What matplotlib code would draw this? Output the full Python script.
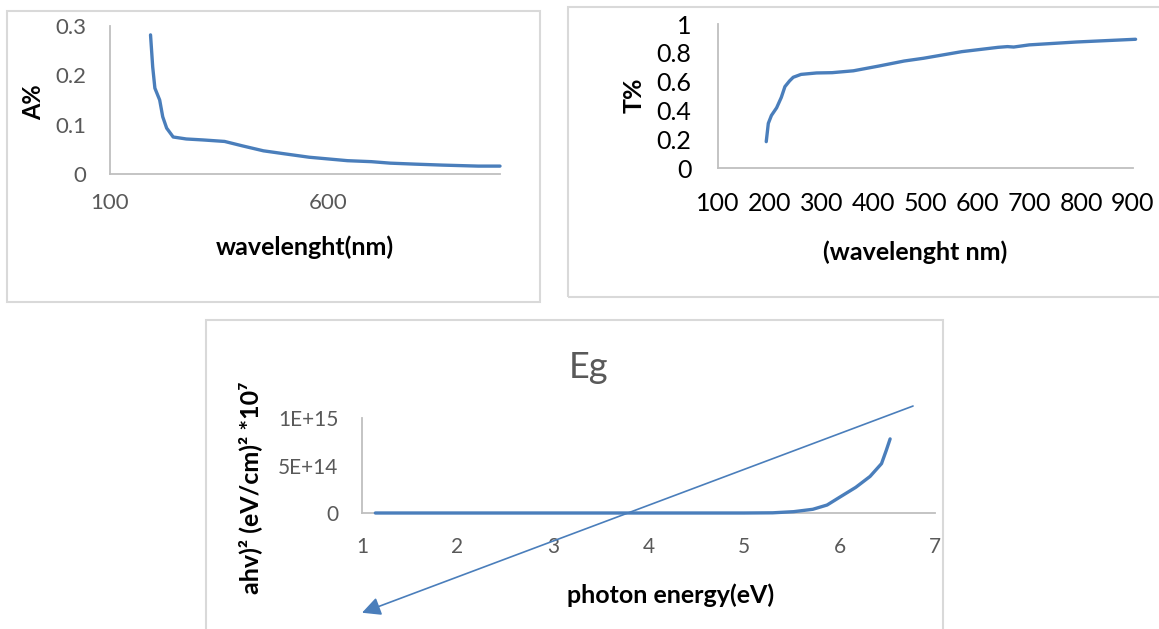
import matplotlib
matplotlib.use("Agg")
import matplotlib.pyplot as plt
from matplotlib.patches import Rectangle

plt.rcParams['font.family'] = ['Lato', 'DejaVu Sans']

# absorbance vs wavelength
abs_wl = [193, 198, 203, 214, 221, 230, 245, 275, 314, 363, 404, 452, 500, 557,
          645, 700, 743, 800, 864, 945, 995]
abs_val = [0.282, 0.217, 0.174, 0.150, 0.116, 0.093, 0.075, 0.071, 0.069, 0.066,
           0.057, 0.047, 0.041, 0.034, 0.027, 0.025, 0.022, 0.020, 0.018, 0.016, 0.016]

# transmittance vs wavelength
tr_wl = [193, 197, 203, 213, 222, 229, 238, 245, 260, 290, 320, 361, 410, 459,
         496, 570, 640, 658, 670, 700, 791, 905]
tr_val = [0.183, 0.310, 0.365, 0.418, 0.49, 0.565, 0.605, 0.630, 0.650, 0.660, 0.662,
          0.675, 0.708, 0.743, 0.762, 0.808, 0.838, 0.843, 0.840, 0.855, 0.875, 0.894]

# (ahv)^2 vs photon energy
eg_e = [1.14, 2.0, 3.0, 4.0, 5.0, 5.3, 5.52, 5.72, 5.87, 6.0, 6.17, 6.32, 6.44, 6.49, 6.53]
eg_val = [0, 0, 0, 0, 0, 0.002e15, 0.014e15, 0.039e15, 0.084e15, 0.165e15, 0.27e15,
          0.385e15, 0.52e15, 0.66e15, 0.78e15]

# hand-drawn extrapolation arrow (start -> tip)
tangent_e = [6.77, 1.0]
tangent_v = [1.126e15, -1.05e15]

W, H = 1159, 629
blue = '#4a7ebb'
gray_txt = '#595959'
spine_c = '#bfbfbf'
border_c = '#d9d9d9'

fig = plt.figure(figsize=(W / 100, H / 100), dpi=100)


def box(x0, y0, x1, y1):
    return [x0 / W, 1 - y1 / H, (x1 - x0) / W, (y1 - y0) / H]


def frame(x0, y0, x1, y1):
    fig.add_artist(Rectangle((x0 / W, 1 - y1 / H), (x1 - x0) / W, (y1 - y0) / H,
                             transform=fig.transFigure, fill=False,
                             edgecolor=border_c, lw=1.5))


def style(ax, col, size, ypad, xpad):
    for s in ['top', 'right']:
        ax.spines[s].set_visible(False)
    for s in ['left', 'bottom']:
        ax.spines[s].set_color(spine_c)
        ax.spines[s].set_linewidth(1.3)
    ax.tick_params(length=0, labelcolor=col, labelsize=size)
    ax.tick_params(axis='y', pad=ypad)
    ax.tick_params(axis='x', pad=xpad)


frame(7, 11, 540, 302)
frame(568, 7, 1165, 297)
frame(206, 320, 943, 640)

# panel 1
ax1 = fig.add_axes(box(110, 26, 500, 174))
ax1.plot(abs_wl, abs_val, color=blue, lw=2.4, clip_on=False,
         solid_capstyle='round', zorder=3)
ax1.set_xlim(100, 995)
ax1.set_ylim(0, 0.3)
ax1.set_xticks([100, 600])
ax1.set_yticks([0, 0.1, 0.2, 0.3])
ax1.set_yticklabels(['0', '0.1', '0.2', '0.3'])
style(ax1, gray_txt, 16, 17, 14)
fig.text(305 / W, 1 - 247 / H, 'wavelenght(nm)', ha='center', va='center',
         fontsize=18, fontweight='bold')
fig.text(34 / W, 1 - 102 / H, 'A%', ha='center', va='center', rotation=90,
         fontsize=17, fontweight='bold')

# panel 2
ax2 = fig.add_axes(box(718, 24, 1133, 168))
ax2.plot(tr_wl, tr_val, color=blue, lw=2.4, clip_on=False,
         solid_capstyle='round', zorder=3)
ax2.set_xlim(100, 900)
ax2.set_ylim(0, 1)
ax2.set_xticks(range(100, 901, 100))
ax2.set_yticks([0, 0.2, 0.4, 0.6, 0.8, 1])
ax2.set_yticklabels(['0', '0.2', '0.4', '0.6', '0.8', '1'])
style(ax2, 'black', 18, 19, 17)
fig.text(915 / W, 1 - 252 / H, '(wavelenght nm)', ha='center', va='center',
         fontsize=18, fontweight='bold')
fig.text(634 / W, 1 - 95 / H, 'T%', ha='center', va='center', rotation=90,
         fontsize=18, fontweight='bold')

# panel 3
ax3 = fig.add_axes(box(362, 418, 935, 513))
ax3.plot(eg_e, eg_val, color=blue, lw=2.4, clip_on=False,
         solid_capstyle='round', zorder=3)
ax3.set_xlim(1, 7)
ax3.set_ylim(0, 1e15)
ax3.set_xticks(range(1, 8))
ax3.set_yticks([0, 5e14, 1e15])
ax3.set_yticklabels(['0', '5E+14', '1E+15'])
style(ax3, gray_txt, 15, 17, 17)
ax3.annotate('', xy=(tangent_e[1], tangent_v[1]), xytext=(tangent_e[0], tangent_v[0]),
             annotation_clip=False,
             arrowprops=dict(arrowstyle='-|>', color=blue, lw=1.2,
                             mutation_scale=28, shrinkA=0, shrinkB=0))
fig.text(588 / W, 1 - 367 / H, 'Eg', ha='center', va='center', fontsize=26,
         color=gray_txt)
fig.text(671 / W, 1 - 595 / H, 'photon energy(eV)', ha='center', va='center',
         fontsize=18, fontweight='bold')
fig.text(250 / W, 1 - 488 / H, 'ahv)\u00b2 (eV/cm)\u00b2 *10\u2077', ha='center',
         va='center', rotation=90, fontsize=18, fontweight='bold')

fig.savefig('out.png', dpi=100)
